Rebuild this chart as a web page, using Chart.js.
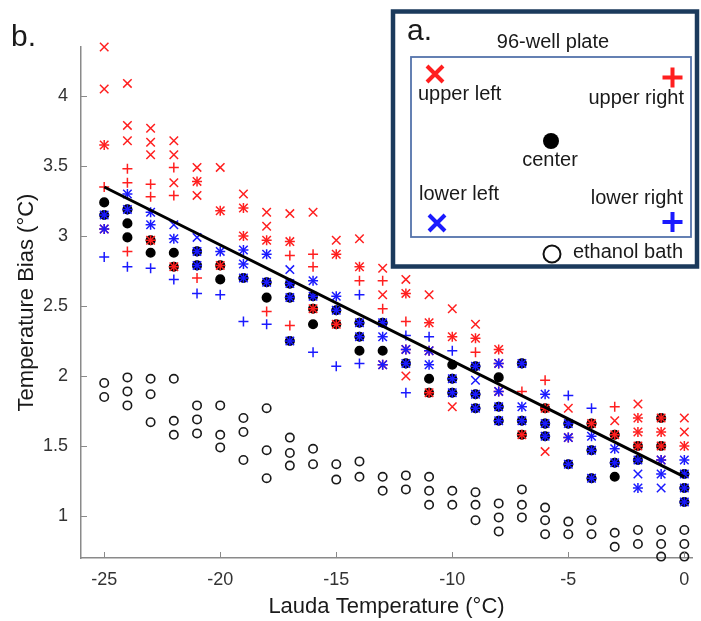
<!DOCTYPE html>
<html>
<head>
<meta charset="utf-8">
<script src="https://cdn.jsdelivr.net/npm/chart.js@4.4.0/dist/chart.umd.min.js"></script>
<style>
  html, body { margin: 0; padding: 0; background: #fff; }
</style>
</head>
<body>
<canvas id="chart" width="701" height="621"></canvas>
<script>
// Lauda set point (x), one entry per column below
var temps = [-25,-24,-23,-22,-21,-20,-19,-18,-17,-16,-15,-14,-13,-12,-11,-10,-9,-8,-7,-6,-5,-4,-3,-2,-1,0];

// temperature bias readings per well position, one list per Lauda temperature
var upperLeft = [
  [4.35,4.05,3.65,3.05],[4.09,3.79,3.68],[3.77,3.67,3.58,2.97],[3.68,3.58,3.38,2.78],
  [3.49,3.39,3.29],[3.49,3.18,2.79],[3.30,3.20,3.00],[3.17,3.07,2.97],[3.16,2.96],
  [3.17,2.48],[2.97,2.87,2.37],[2.98,2.78],[2.77,2.58,2.08],[2.69,2.59,2.19,2.00],
  [2.58,2.38,2.18,1.88],[2.48,2.28,1.78],[2.37,2.27],[2.19,2.09,1.89],[1.58],
  [1.77,1.46],[1.77,1.56],[1.66],[1.68,1.58],[1.80,1.70,1.60,1.50],
  [1.70,1.60,1.50,1.40],[1.70,1.60,1.50]
];
var upperRight = [
  [3.65,3.35,3.05],[3.48,3.38,2.89],[3.37,3.28,2.97],[3.49,3.29,2.78],[3.39,2.70],
  [3.18,2.79],[3.20,3.00],[2.97,2.46],[2.96,2.86,2.36],[2.87,2.78,2.48],[2.87,2.37],
  [2.78,2.68],[2.68,2.48,2.08],[2.59,2.39,2.19],[2.38,2.18,1.88],[2.28],[2.27,2.17],
  [2.19,2.09,1.89],[1.89,1.58],[1.97,1.77],[1.56],[1.66],[1.78,1.58],
  [1.70,1.60,1.50],[1.70,1.60,1.50,1.40],[1.50]
];
var center = [
  [3.24,3.15],[3.19,3.09,2.99],[2.97,2.88],[2.88,2.78],[2.89,2.79],[2.79,2.69],[2.70],
  [2.67,2.56],[2.66,2.56,2.25],[2.57,2.48,2.37],[2.47,2.37],[2.38,2.28,2.18],[2.38,2.18],
  [2.09],[1.98,1.88],[2.08,1.98,1.88],[2.07,1.87,1.77],[1.99,1.78,1.68],[2.09,1.68,1.58],
  [1.77,1.66,1.57],[1.66,1.37],[1.66,1.47,1.27],[1.58,1.38,1.28],[1.50,1.40],[1.70,1.50],
  [1.30,1.20,1.10]
];
var lowerLeft = [
  [3.15,3.05],[3.30,3.19],[3.17,3.08],[3.08,2.98],[2.99,2.89,2.79],[2.89],[2.90,2.80,2.70],
  [2.87,2.67],[2.76,2.66,2.56,2.25],[2.68,2.57],[2.57,2.47],[2.38,2.28],[2.38,2.28,2.08],
  [2.19,2.09],[2.18,2.08],[1.98,1.88],[2.07,1.97,1.87,1.77],[2.09,1.89,1.78,1.68],
  [2.09,1.78,1.68],[1.87,1.66,1.57],[1.66,1.56,1.37],[1.57,1.47,1.27],[1.48,1.38],
  [1.40,1.30,1.20],[1.40,1.30,1.20],[1.40,1.30,1.20,1.10]
];
var lowerRight = [
  [3.15,3.05,2.85],[3.30,3.19,2.78],[3.17,3.08,2.77],[2.98,2.69],[2.89,2.79,2.59],
  [2.89,2.58],[2.90,2.80,2.70,2.39],[2.87,2.67,2.37],[2.66,2.56,2.25],[2.68,2.57,2.17],
  [2.57,2.47,2.07],[2.58,2.38,2.28,2.09],[2.38,2.28,2.08],[2.29,2.19,2.09,1.88],
  [2.28,2.18,2.08],[2.18,1.98,1.88],[2.07,1.87,1.77],[2.09,1.89,1.78,1.68],
  [2.09,1.78,1.68],[1.87,1.66,1.57],[1.86,1.66,1.56,1.37],[1.77,1.57,1.47,1.27],
  [1.48,1.38],[1.40,1.20],[1.40,1.30],[1.40,1.30,1.20,1.10]
];
var ethanolBath = [
  [1.95,1.85],[1.99,1.89,1.79],[1.98,1.87,1.67],[1.98,1.68,1.58],[1.79,1.69,1.59],
  [1.79,1.58,1.49],[1.70,1.60,1.40],[1.77,1.47,1.27],[1.56,1.45,1.36],[1.48,1.37],
  [1.37,1.26],[1.39,1.28],[1.28,1.18],[1.29,1.19],[1.28,1.18,1.08],[1.18,1.08],
  [1.17,1.08,0.97],[1.09,0.99,0.89],[1.19,1.08,0.99],[1.06,0.97,0.87],[0.96,0.87],
  [0.97,0.87],[0.88,0.78],[0.90,0.80],[0.90,0.80,0.71],[0.90,0.80,0.71]
];

// linear fit
var fitX = [-25, 0];
var fitY = [3.35, 1.28];

var xTicks = [-25, -20, -15, -10, -5, 0];
var yTicks = [1, 1.5, 2, 2.5, 3, 3.5, 4];

var RED = '#ff1f1f', BLUE = '#1a1aff';
var FONT = '"Liberation Sans", Arial, sans-serif';

function pts(arr) {
  var out = [];
  arr.forEach(function (ys, i) {
    ys.forEach(function (y) { out.push({x: temps[i], y: y}); });
  });
  return out;
}

function marker(style, color, r, order, data) {
  return {
    data: pts(data), pointStyle: style, pointRadius: r, borderColor: color,
    backgroundColor: style === 'circle' ? color : 'rgba(0,0,0,0)',
    pointBorderWidth: 1.5, showLine: false, order: order, clip: false
  };
}

// axis ticks, titles, panel labels and the plate legend
var decor = {
  id: 'decor',
  afterDraw: function (chart) {
    var ctx = chart.ctx, xs = chart.scales.x, ys = chart.scales.y;
    var a = chart.chartArea;
    ctx.save();
    ctx.strokeStyle = '#8a8a8a';
    ctx.lineWidth = 1;
    xTicks.forEach(function (v) {
      var px = Math.round(xs.getPixelForValue(v)) + 0.5;
      ctx.beginPath(); ctx.moveTo(px, a.bottom); ctx.lineTo(px, a.bottom - 6); ctx.stroke();
    });
    yTicks.forEach(function (v) {
      var py = Math.round(ys.getPixelForValue(v)) + 0.5;
      ctx.beginPath(); ctx.moveTo(a.left, py); ctx.lineTo(a.left + 6, py); ctx.stroke();
    });

    ctx.fillStyle = '#1a1a1a';
    ctx.textAlign = 'center';
    ctx.textBaseline = 'middle';
    ctx.font = '22px ' + FONT;
    ctx.fillText('Lauda Temperature (°C)', (a.left + a.right) / 2, 607);
    ctx.save();
    ctx.translate(27, (a.top + a.bottom) / 2);
    ctx.rotate(-Math.PI / 2);
    ctx.fillText('Temperature Bias (°C)', 0, 0);
    ctx.restore();

    ctx.textBaseline = 'alphabetic';
    ctx.textAlign = 'left';
    ctx.font = '30px ' + FONT;
    ctx.fillText('b.', 11, 46);

    // inset box
    ctx.fillStyle = '#fff';
    ctx.fillRect(393, 11.5, 304, 255);
    ctx.strokeStyle = '#1b3a5c';
    ctx.lineWidth = 4.5;
    ctx.strokeRect(393, 11.5, 304, 255);
    ctx.strokeStyle = '#5473ab';
    ctx.lineWidth = 1.8;
    ctx.strokeRect(411, 57, 280, 180);

    ctx.fillStyle = '#1a1a1a';
    ctx.font = '30px ' + FONT;
    ctx.fillText('a.', 407, 40);
    ctx.font = '20px ' + FONT;
    ctx.textAlign = 'center';
    ctx.fillText('96-well plate', 553, 48);
    ctx.textAlign = 'left';
    ctx.fillText('upper left', 418, 100);
    ctx.fillText('lower left', 419, 200);
    ctx.textAlign = 'right';
    ctx.fillText('upper right', 684, 104);
    ctx.fillText('lower right', 683, 204);
    ctx.fillText('ethanol bath', 683, 258);
    ctx.textAlign = 'center';
    ctx.fillText('center', 550, 166);

    function cross(cx, cy, h, color, rot) {
      ctx.strokeStyle = color;
      ctx.lineWidth = 4;
      ctx.beginPath();
      if (rot) {
        ctx.moveTo(cx - h, cy - h); ctx.lineTo(cx + h, cy + h);
        ctx.moveTo(cx + h, cy - h); ctx.lineTo(cx - h, cy + h);
      } else {
        ctx.moveTo(cx - h, cy); ctx.lineTo(cx + h, cy);
        ctx.moveTo(cx, cy - h); ctx.lineTo(cx, cy + h);
      }
      ctx.stroke();
    }
    cross(435, 74, 8, RED, true);
    cross(672.5, 77.5, 10, RED, false);
    cross(437, 223, 8, BLUE, true);
    cross(672.5, 222, 10, BLUE, false);
    ctx.fillStyle = '#000';
    ctx.beginPath(); ctx.arc(551, 141, 8, 0, Math.PI * 2); ctx.fill();
    ctx.strokeStyle = '#111';
    ctx.lineWidth = 2;
    ctx.beginPath(); ctx.arc(552, 254, 8.5, 0, Math.PI * 2); ctx.stroke();
    ctx.restore();
  }
};

new Chart(document.getElementById('chart'), {
  type: 'scatter',
  data: {
    datasets: [
      {
        data: fitX.map(function (x, i) { return {x: x, y: fitY[i]}; }),
        showLine: true, borderColor: '#000', borderWidth: 3, pointRadius: 0, order: 0, clip: false
      },
      marker('cross', BLUE, 5, 1, lowerRight),
      marker('crossRot', BLUE, 6, 2, lowerLeft),
      marker('cross', RED, 5, 3, upperRight),
      marker('crossRot', RED, 6, 4, upperLeft),
      marker('circle', '#000', 4.3, 5, center),
      {
        data: pts(ethanolBath), pointStyle: 'circle', pointRadius: 4.2, pointBorderWidth: 1.6,
        borderColor: '#1a1a1a', backgroundColor: 'rgba(0,0,0,0)', order: 6, clip: false
      }
    ]
  },
  options: {
    responsive: false,
    animation: false,
    events: [],
    layout: { padding: { left: 0, top: 47, right: 9, bottom: 0 } },
    plugins: { legend: { display: false }, tooltip: { enabled: false } },
    scales: {
      x: {
        type: 'linear', min: -26, max: 0.33,
        afterBuildTicks: function (s) { s.ticks = xTicks.map(function (v) { return {value: v}; }); },
        afterFit: function (s) { s.height = 63; },
        grid: { display: false, drawTicks: false },
        border: { display: true, color: '#8a8a8a', width: 1.5 },
        ticks: { padding: 11, color: '#333', font: { family: FONT, size: 18 },
                 callback: function (v) { return String(v); } }
      },
      y: {
        type: 'linear', min: 0.7, max: 4.35,
        afterBuildTicks: function (s) { s.ticks = yTicks.map(function (v) { return {value: v}; }); },
        afterFit: function (s) { s.width = 81; },
        grid: { display: false, drawTicks: false },
        border: { display: true, color: '#8a8a8a', width: 1.5 },
        ticks: { padding: 13, color: '#333', font: { family: FONT, size: 18 },
                 callback: function (v) { return String(v); } }
      }
    }
  },
  plugins: [decor]
});
</script>
</body>
</html>
